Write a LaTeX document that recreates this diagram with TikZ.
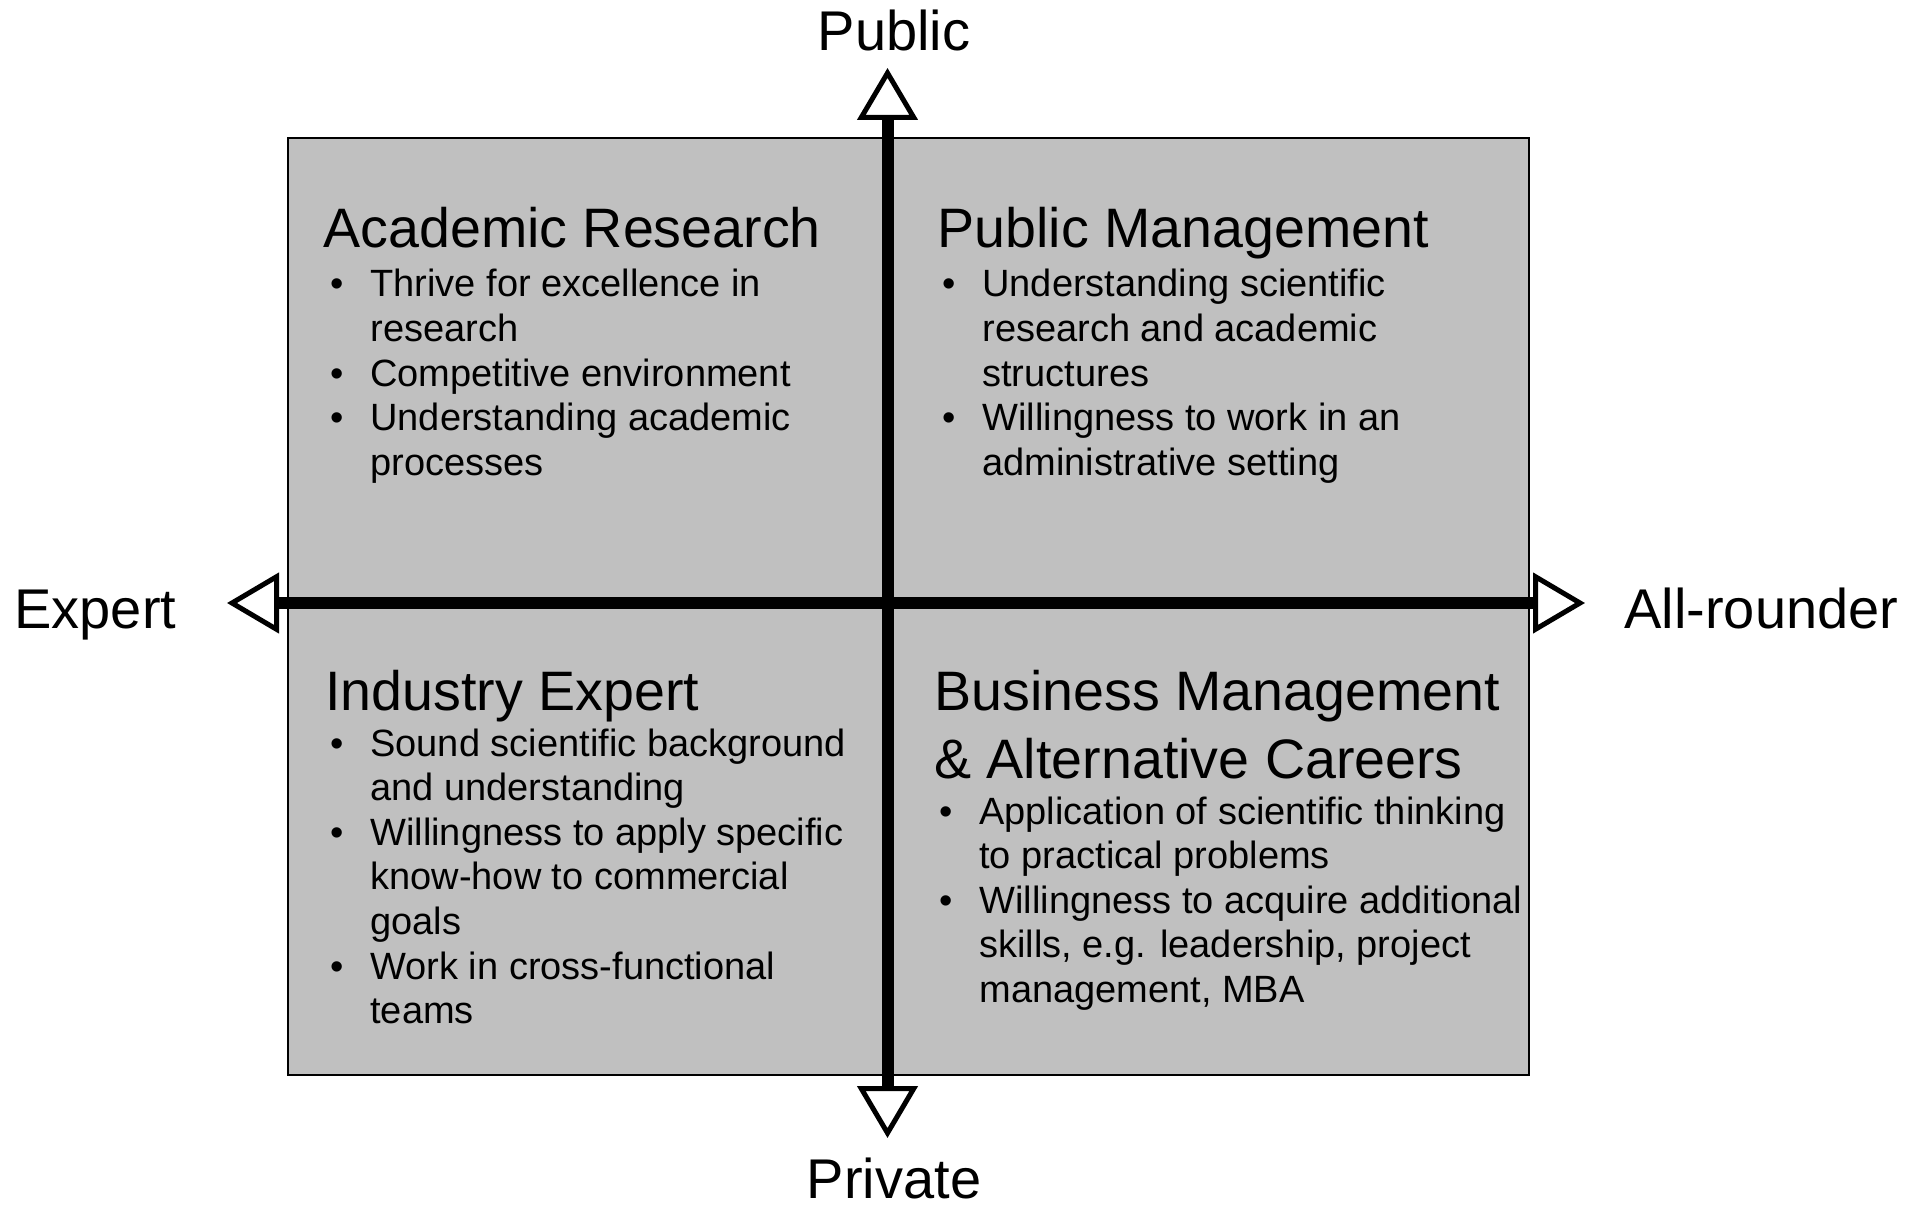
\documentclass[tikz,border=0pt]{standalone}
\usepackage{fontspec}
\setmainfont{Liberation Sans}
\usetikzlibrary{arrows.meta}
\definecolor{quadgray}{RGB}{192,192,192}
% bullet list with a fixed indent for the text
\newcommand{\blist}[1]{\begin{tabular}[t]{@{}p{20pt}@{}l@{}}#1\end{tabular}}

\begin{document}
\begin{tikzpicture}[x=0.5pt,y=-0.5pt,
	quad/.style={draw=black,line width=1pt,fill=quadgray},
	axis/.style={line width=6pt,{Triangle[open,length=26pt,width=30pt,line width=2.5pt]}-{Triangle[open,length=26pt,width=30pt,line width=2.5pt]}},
	ttl/.style={anchor=base west,inner sep=0pt,font=\fontsize{27.8}{34}\selectfont},
	lst/.style={anchor=base west,inner sep=0pt,font=\fontsize{19}{22.3}\selectfont},
	lbl/.style={inner sep=0pt,font=\fontsize{28}{34}\selectfont}]
	\useasboundingbox (0,0) rectangle (1909,1208);
	\draw[quad] (288,138) rectangle (1529,1075);
	% quadrants
	\node[ttl] (arT) at (323,248) {Academic Research};
	\node[lst] (arL) at (330,297) {\blist{%
		\textbullet & Thrive for excellence in\\ & research\\
		\textbullet & Competitive environment\\
		\textbullet & Understanding academic\\ & processes}};
	\node[ttl] (pmT) at (937,248) {Public Management};
	\node[lst] (pmL) at (942,297) {\blist{%
		\textbullet & Understanding scientific\\ & research and academic\\ & structures\\
		\textbullet & Willingness to work in an\\ & administrative setting}};
	\node[ttl] (ieT) at (325,710) {Industry Expert};
	\node[lst] (ieL) at (330,756) {\blist{%
		\textbullet & Sound scientific background\\ & and understanding\\
		\textbullet & Willingness to apply specific\\ & know-how to commercial\\ & goals\\
		\textbullet & Work in cross-functional\\ & teams}};
	\node[ttl] (bmT) at (934,710) {\begin{tabular}[t]{@{}l@{}}Business Management\\ \& Alternative Careers\end{tabular}};
	\node[lst] (bmL) at (939,824) {\blist{%
		\textbullet & Application of scientific thinking\\ & to practical problems\\
		\textbullet & Willingness to acquire additional\\ & skills, e.g. leadership, project\\ & management, MBA}};
	% axes
	\coordinate (pub) at (887.5,68);
	\coordinate (priv) at (887.5,1138);
	\coordinate (exp) at (227,603);
	\coordinate (all) at (1585,603);
	\draw[axis] (priv) -- (pub);
	\draw[axis] (exp) -- (all);
	\node[lbl,anchor=base] (pubL) at (894,51) {Public};
	\node[lbl,anchor=base] (privL) at (894,1198) {Private};
	\node[lbl,anchor=base west] (expL) at (14,628) {Expert};
	\node[lbl,anchor=base west] (allL) at (1624,628) {All-rounder};
\end{tikzpicture}
\end{document}
